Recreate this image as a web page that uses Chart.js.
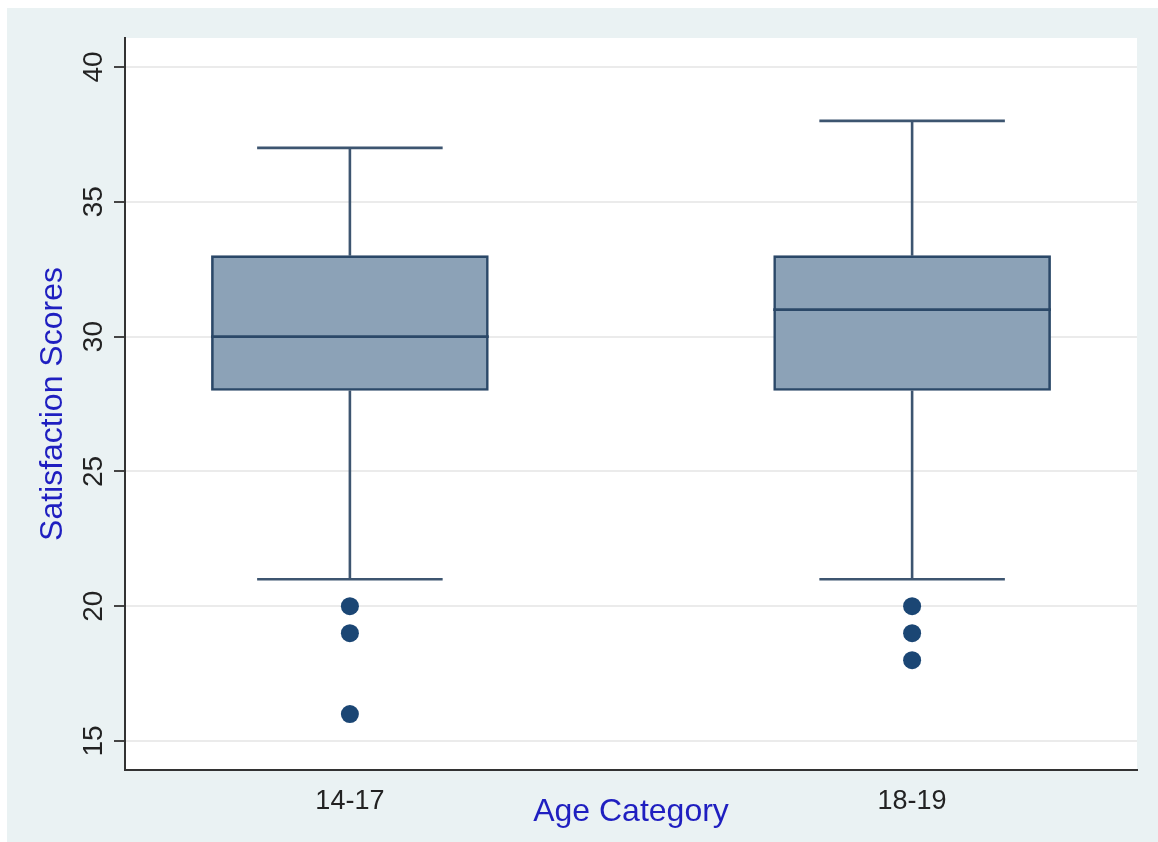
<!DOCTYPE html>
<html>
<head>
<meta charset="utf-8">
<script src="https://cdn.jsdelivr.net/npm/chart.js@4/dist/chart.umd.min.js"></script>
<style>
  html, body { margin: 0; padding: 0; background: #ffffff; }
  #wrap { position: absolute; left: 7px; top: 8px; width: 1151px; height: 834px; background: #eaf2f3; }
</style>
</head>
<body>
<div id="wrap"><canvas id="chart"></canvas></div>
<script>
// box plot values
var AGE_GROUPS = ['14-17', '18-19'];
var WHISK_LOW = [21, 21];
var Q1 = [28, 28];
var MEDIAN = [30, 31];
var Q3 = [33, 33];
var WHISK_HIGH = [37, 38];
var OUTLIERS = [[20, 19, 16], [20, 19, 18]];
var Y_TICKS = [15, 20, 25, 30, 35, 40];

var BOX_HALF = 0.247;
var CAP_HALF = 0.165;
var BOX_FILL = '#8ca2b7';
var BOX_EDGE = '#2b4868';
var WHISK_COL = '#3d5570';
var DOT_COL = '#1b4674';

function seg(x1, y1, x2, y2, col, order) {
  return {
    type: 'line',
    data: [{x: x1, y: y1}, {x: x2, y: y2}],
    borderColor: col,
    borderWidth: 2.6,
    pointRadius: 0,
    order: order
  };
}

var datasets = [];

datasets.push({
  type: 'bar',
  data: AGE_GROUPS.map((g, i) => ({x: i + 1, y: [Q1[i], Q3[i]]})),
  backgroundColor: BOX_FILL,
  borderColor: BOX_EDGE,
  borderWidth: 2.6,
  borderSkipped: false,
  barThickness: 277,
  grouped: false,
  order: 2
});

AGE_GROUPS.forEach((g, i) => {
  var x = i + 1;
  datasets.push(seg(x, Q3[i], x, WHISK_HIGH[i], WHISK_COL, 1));
  datasets.push(seg(x - CAP_HALF, WHISK_HIGH[i], x + CAP_HALF, WHISK_HIGH[i], WHISK_COL, 1));
  datasets.push(seg(x, WHISK_LOW[i], x, Q1[i], WHISK_COL, 1));
  datasets.push(seg(x - CAP_HALF, WHISK_LOW[i], x + CAP_HALF, WHISK_LOW[i], WHISK_COL, 1));
  datasets.push(seg(x - BOX_HALF, MEDIAN[i], x + BOX_HALF, MEDIAN[i], BOX_EDGE, 0));
});

datasets.push({
  type: 'scatter',
  data: [].concat.apply([], OUTLIERS.map((arr, i) => arr.map(v => ({x: i + 1, y: v})))),
  backgroundColor: DOT_COL,
  borderWidth: 0,
  pointRadius: 9,
  order: 0
});

// white plot region + rotated y tick labels like the stata look
var plotBg = {
  id: 'plotBg',
  beforeDraw(chart) {
    var a = chart.chartArea, ctx = chart.ctx;
    ctx.save();
    ctx.fillStyle = '#ffffff';
    ctx.fillRect(a.left, a.top, a.right - a.left, a.bottom - a.top);
    ctx.restore();
  },
  afterDraw(chart) {
    var sc = chart.scales.y, ctx = chart.ctx;
    ctx.save();
    ctx.font = '28px "Liberation Sans", Arial, sans-serif';
    ctx.fillStyle = '#222222';
    ctx.textAlign = 'center';
    ctx.textBaseline = 'alphabetic';
    sc.ticks.forEach(t => {
      ctx.save();
      ctx.translate(95, sc.getPixelForValue(t.value));
      ctx.rotate(-Math.PI / 2);
      ctx.fillText(String(t.value), 0, 0);
      ctx.restore();
    });
    ctx.restore();
  }
};

new Chart(document.getElementById('chart'), {
  type: 'scatter',
  data: {datasets: datasets},
  options: {
    responsive: true,
    maintainAspectRatio: false,
    animation: false,
    layout: {padding: {top: 30, right: 21, left: 0, bottom: 0}},
    plugins: {legend: {display: false}, tooltip: {enabled: false}},
    scales: {
      x: {
        type: 'linear',
        min: 0.6,
        max: 2.4,
        offset: false,
        grid: {display: false, drawTicks: false, offset: false},
        border: {display: true, color: '#333333', width: 2},
        afterBuildTicks: s => { s.ticks = AGE_GROUPS.map((g, i) => ({value: i + 1})); },
        afterFit: s => { s.height = 72; },
        ticks: {
          padding: 15,
          color: '#222222',
          font: {family: '"Liberation Sans", Arial, sans-serif', size: 27},
          callback: (v, i) => AGE_GROUPS[i]
        },
        title: {
          display: true,
          text: 'Age Category',
          color: '#1f1fc0',
          padding: {bottom: 11, top: 0},
          font: {family: '"Liberation Sans", Arial, sans-serif', size: 32}
        }
      },
      y: {
        min: 15 - 29 / 27,
        max: 40 + 29 / 27,
        grid: {color: '#ebebeb', lineWidth: 2, tickColor: '#444444', tickLength: 11},
        border: {display: true, color: '#333333', width: 2},
        afterBuildTicks: s => { s.ticks = Y_TICKS.map(v => ({value: v})); },
        afterFit: s => { s.width = 118; },
        ticks: {color: 'rgba(0,0,0,0)', font: {size: 26}},
        title: {
          display: true,
          text: 'Satisfaction Scores',
          color: '#1f1fc0',
          padding: {top: 27, bottom: 0},
          font: {family: '"Liberation Sans", Arial, sans-serif', size: 32}
        }
      }
    }
  },
  plugins: [plotBg]
});
</script>
</body>
</html>
